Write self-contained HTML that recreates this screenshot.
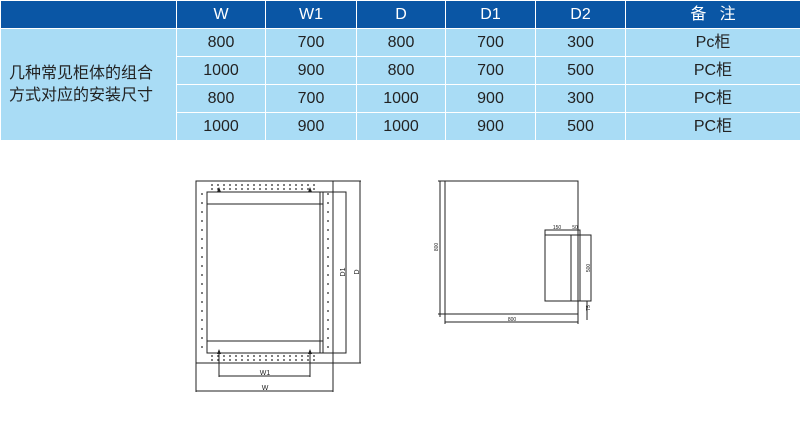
<!DOCTYPE html>
<html><head><meta charset="utf-8"><style>
body{margin:0;width:801px;height:425px;background:#fff;overflow:hidden;font-family:"Liberation Sans","Noto Sans CJK SC",sans-serif}
table{position:absolute;left:0;top:0;border-collapse:collapse;width:801px;table-layout:fixed}
td{border:1px solid #fff;text-align:center;color:#222;font-size:16px;padding:0;background:#a9dcf5;height:27px;line-height:26px}
tr.h td{background:#0a56a5;color:#fff;height:27px;font-size:16px}
td.f{text-align:left;padding-left:8px;font-size:16px;line-height:22px;white-space:nowrap}
</style></head><body>
<table>
<tr class="h"><td style="width:175px"></td><td style="width:88px">W</td><td style="width:90px">W1</td><td style="width:88px">D</td><td style="width:89px">D1</td><td style="width:89px">D2</td><td>备 &nbsp; 注</td></tr>
<tr><td class="f" rowspan="4">几种常见柜体的组合<br>方式对应的安装尺寸</td><td>800</td><td>700</td><td>800</td><td>700</td><td>300</td><td>Pc柜</td></tr>
<tr><td>1000</td><td>900</td><td>800</td><td>700</td><td>500</td><td>PC柜</td></tr>
<tr><td>800</td><td>700</td><td>1000</td><td>900</td><td>300</td><td>PC柜</td></tr>
<tr><td>1000</td><td>900</td><td>1000</td><td>900</td><td>500</td><td>PC柜</td></tr>
</table>
<svg width="801" height="425" style="position:absolute;left:0;top:0" font-family="Liberation Sans,sans-serif">
<g stroke="#222" fill="none" stroke-width="1">
<rect x="196" y="181" width="137" height="182"/>
<line x1="196" y1="363" x2="196" y2="392"/><line x1="333" y1="363" x2="333" y2="392"/>
<line x1="196" y1="391" x2="333" y2="391"/>
<line x1="333" y1="181" x2="361" y2="181"/><line x1="333" y1="363" x2="361" y2="363"/><line x1="360" y1="181" x2="360" y2="363"/>
<rect x="207" y="192" width="139" height="161"/>
<line x1="207" y1="204" x2="323" y2="204"/><line x1="207" y1="341" x2="323" y2="341"/>
<line x1="323" y1="192" x2="323" y2="353"/><line x1="320" y1="192" x2="320" y2="353"/>
<line x1="219" y1="353" x2="219" y2="377"/><line x1="310" y1="353" x2="310" y2="377"/>
<line x1="219" y1="376" x2="310" y2="376"/>
<rect x="445" y="181" width="133" height="133"/>
<line x1="440" y1="181" x2="440" y2="317"/><line x1="438" y1="181" x2="445" y2="181"/><line x1="438" y1="314" x2="578" y2="314"/>
<line x1="445" y1="314" x2="445" y2="324"/><line x1="578" y1="314" x2="578" y2="324"/><line x1="445" y1="322" x2="578" y2="322"/>
<rect x="545" y="230" width="35" height="71"/>
<rect x="571" y="235" width="20" height="66"/>
<line x1="545" y1="235" x2="591" y2="235"/>
<line x1="587" y1="301" x2="587" y2="320"/>
</g>
<g fill="#222">
<g id="d">
<circle cx="212" cy="185" r="0.9"/><circle cx="218" cy="185" r="0.9"/><circle cx="224" cy="185" r="0.9"/><circle cx="230" cy="185" r="0.9"/><circle cx="236" cy="185" r="0.9"/><circle cx="242" cy="185" r="0.9"/><circle cx="248" cy="185" r="0.9"/><circle cx="254" cy="185" r="0.9"/><circle cx="260" cy="185" r="0.9"/><circle cx="266" cy="185" r="0.9"/><circle cx="272" cy="185" r="0.9"/><circle cx="278" cy="185" r="0.9"/><circle cx="284" cy="185" r="0.9"/><circle cx="290" cy="185" r="0.9"/><circle cx="296" cy="185" r="0.9"/><circle cx="302" cy="185" r="0.9"/><circle cx="308" cy="185" r="0.9"/><circle cx="314" cy="185" r="0.9"/>
</g>
<use href="#d" y="4"/><use href="#d" y="171"/><use href="#d" y="175"/>
<g id="v">
<circle cx="202" cy="194" r="0.9"/><circle cx="202" cy="203" r="0.9"/><circle cx="202" cy="212" r="0.9"/><circle cx="202" cy="221" r="0.9"/><circle cx="202" cy="230" r="0.9"/><circle cx="202" cy="239" r="0.9"/><circle cx="202" cy="248" r="0.9"/><circle cx="202" cy="257" r="0.9"/><circle cx="202" cy="266" r="0.9"/><circle cx="202" cy="275" r="0.9"/><circle cx="202" cy="284" r="0.9"/><circle cx="202" cy="293" r="0.9"/><circle cx="202" cy="302" r="0.9"/><circle cx="202" cy="311" r="0.9"/><circle cx="202" cy="320" r="0.9"/><circle cx="202" cy="329" r="0.9"/><circle cx="202" cy="338" r="0.9"/><circle cx="202" cy="347" r="0.9"/>
</g>
<use href="#v" x="126"/>
<path d="M219 187l-2 5h4zM310 187l-2 5h4zM219 349l-2 5h4zM310 349l-2 5h4z"/>
<text x="265" y="375" font-size="7" text-anchor="middle">W1</text>
<text x="265" y="390" font-size="7" text-anchor="middle">W</text>
<text font-size="7" transform="translate(345,272) rotate(-90)" text-anchor="middle">D1</text>
<text font-size="7" transform="translate(359,272) rotate(-90)" text-anchor="middle">D</text>
<text font-size="5" transform="translate(438,247) rotate(-90)" text-anchor="middle">800</text>
<text x="512" y="321" font-size="5" text-anchor="middle">800</text>
<text x="557" y="229" font-size="5" text-anchor="middle">150</text>
<text x="575" y="229" font-size="5" text-anchor="middle">50</text>
<text font-size="5" transform="translate(590,268) rotate(-90)" text-anchor="middle">500</text>
<text font-size="5" transform="translate(590,308) rotate(-90)" text-anchor="middle">75</text>
</g>
</svg>
</body></html>
